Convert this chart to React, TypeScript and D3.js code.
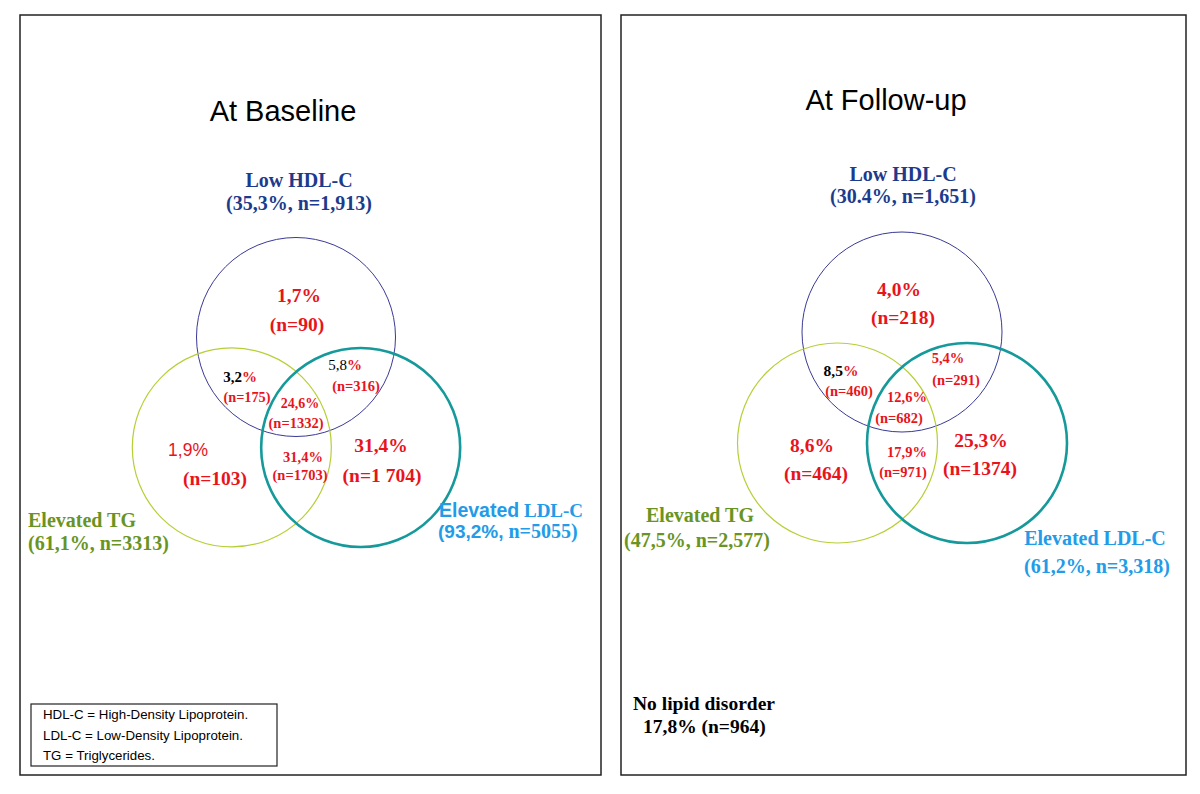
import React from 'react';
import * as d3 from 'd3';

// ---- DATA ----
const panelTitles = ['At Baseline', 'At Follow-up'];
const setNames = ['Low HDL-C', 'Elevated TG', 'Elevated LDL-C'];
const baselineSetPct = ['35,3%', '61,1%', '93,2%'];
const baselineSetN = ['1,913', '3313', '5055'];
const followSetPct = ['30.4%', '47,5%', '61,2%'];
const followSetN = ['1,651', '2,577', '3,318'];
// region order: HDL only, TG only, LDL only, HDL∩TG, HDL∩LDL, TG∩LDL, all three
const regionKeys = ['hdl', 'tg', 'ldl', 'hdlTg', 'hdlLdl', 'tgLdl', 'all'];
const baselinePct = ['1,7', '1,9', '31,4', '3,2', '5,8', '31,4', '24,6'];
const baselineN = ['90', '103', '1 704', '175', '316', '1703', '1332'];
const followPct = ['4,0', '8,6', '25,3', '8,5', '5,4', '17,9', '12,6'];
const followN = ['218', '464', '1374', '460', '291', '971', '682'];
const noDisorderPct = '17,8%';
const noDisorderN = '964';
const legendLines = ['HDL-C = High-Density Lipoprotein.', 'LDL-C = Low-Density Lipoprotein.', 'TG = Triglycerides.'];

// ---- LAYOUT ----
const SERIF = '"Liberation Serif", "Times New Roman", serif';
const SANS = '"Liberation Sans", Arial, sans-serif';
const RED = '#e8141c';
const NAVY = '#1c3b8c';
const OLIVE = '#6a9422';
const SKY = '#229be8';
const circleColors = ['#3a3a96', '#b7cf37', '#16999a'];
const circleWidths = [1, 1.2, 2.6];
// unit centers (radius = 1)
const unitCenters: [number, number][] = [[0, 0], [-0.645, 1.11], [0.65, 1.11]];

type Panel = {
  rect: [number, number, number, number];
  origin: [number, number];
  r: number;
  title: [number, number];
};
const panels: Panel[] = [
  { rect: [20, 15, 601, 775], origin: [296, 337], r: 99.5, title: [283, 121] },
  { rect: [621, 15, 1186, 775], origin: [902, 332], r: 100, title: [886, 110] },
];

type Lbl = { x1: number; y1: number; x2: number; y2: number; s1: number; s2: number; kind?: string };
const regionLayout: Record<string, Lbl>[] = [
  {
    hdl: { x1: 299, y1: 302, x2: 297, y2: 331, s1: 19.5, s2: 19.5 },
    tg: { x1: 188, y1: 456, x2: 215, y2: 485, s1: 17.5, s2: 19.5, kind: 'sans' },
    ldl: { x1: 381, y1: 452, x2: 382, y2: 482, s1: 19.5, s2: 19.5 },
    hdlTg: { x1: 240, y1: 382, x2: 247, y2: 402, s1: 15, s2: 14.3, kind: 'blackBold' },
    hdlLdl: { x1: 345, y1: 370, x2: 356, y2: 391, s1: 15, s2: 14.5, kind: 'blackReg' },
    all: { x1: 300, y1: 408, x2: 296, y2: 428, s1: 14, s2: 14.5 },
    tgLdl: { x1: 303, y1: 462, x2: 300, y2: 480, s1: 14.5, s2: 14.5 },
  },
  {
    hdl: { x1: 899, y1: 296, x2: 903, y2: 324, s1: 19.5, s2: 19.5 },
    tg: { x1: 812, y1: 452, x2: 816, y2: 480, s1: 19.5, s2: 19.5 },
    ldl: { x1: 981, y1: 447, x2: 980, y2: 475, s1: 19.5, s2: 19.5 },
    hdlTg: { x1: 841, y1: 376, x2: 849, y2: 396, s1: 15.5, s2: 14.5, kind: 'blackBold' },
    hdlLdl: { x1: 948, y1: 363, x2: 956, y2: 385, s1: 14.5, s2: 14.5 },
    all: { x1: 907, y1: 402, x2: 899, y2: 423, s1: 14.5, s2: 14.5 },
    tgLdl: { x1: 907, y1: 457, x2: 903, y2: 477, s1: 14.5, s2: 14.5 },
  },
];

function RegionLabel({ l, pct, n }: { l: Lbl; pct: string; n: string }) {
  const first = l.kind === 'sans' ? (
    <text x={l.x1} y={l.y1} textAnchor="middle" fontFamily={SANS} fontSize={l.s1} fill={RED}>{pct}%</text>
  ) : l.kind === 'blackBold' ? (
    <text x={l.x1} y={l.y1} textAnchor="middle" fontFamily={SERIF} fontWeight="bold" fontSize={l.s1}>
      <tspan fill="#000">{pct}</tspan><tspan fill={RED}>%</tspan>
    </text>
  ) : l.kind === 'blackReg' ? (
    <text x={l.x1} y={l.y1} textAnchor="middle" fontFamily={SERIF} fontSize={l.s1}>
      <tspan fill="#000">{pct}</tspan><tspan fill={RED} fontWeight="bold">%</tspan>
    </text>
  ) : (
    <text x={l.x1} y={l.y1} textAnchor="middle" fontFamily={SERIF} fontWeight="bold" fontSize={l.s1} fill={RED}>{pct}%</text>
  );
  return (
    <g>
      {first}
      <text x={l.x2} y={l.y2} textAnchor="middle" fontFamily={SERIF} fontWeight="bold" fontSize={l.s2} fill={RED}>(n={n})</text>
    </g>
  );
}

export default function App() {
  const pcts = [baselinePct, followPct];
  const ns = [baselineN, followN];
  return (
    <svg width={1200} height={794} style={{ position: 'absolute', left: 0, top: 0, background: '#fff' }}>
      <rect x={0} y={0} width={1200} height={794} fill="#fff" />
      {panels.map((p, pi) => {
        const xs = d3.scaleLinear().domain([0, 1]).range([p.origin[0], p.origin[0] + p.r]);
        const ys = d3.scaleLinear().domain([0, 1]).range([p.origin[1], p.origin[1] + p.r]);
        return (
          <g key={pi}>
            <rect x={p.rect[0]} y={p.rect[1]} width={p.rect[2] - p.rect[0]} height={p.rect[3] - p.rect[1]}
              fill="none" stroke="#222" strokeWidth={1.5} />
            <text x={p.title[0]} y={p.title[1]} textAnchor="middle" fontFamily={SANS} fontSize={29} fill="#000">{panelTitles[pi]}</text>
            {unitCenters.map((c, ci) => (
              <circle key={ci} cx={xs(c[0])} cy={ys(c[1])} r={xs(1) - xs(0)} fill="none"
                stroke={circleColors[ci]} strokeWidth={circleWidths[ci]} />
            ))}
            {regionKeys.map((k, ri) => (
              <RegionLabel key={k} l={regionLayout[pi][k]} pct={pcts[pi][ri]} n={ns[pi][ri]} />
            ))}
          </g>
        );
      })}

      {/* Baseline set labels */}
      <g fontFamily={SERIF} fontWeight="bold" fontSize={20}>
        <text x={299} y={187} textAnchor="middle" fill={NAVY}>{setNames[0]}</text>
        <text x={299} y={210} textAnchor="middle" fill={NAVY}>({baselineSetPct[0]}, n={baselineSetN[0]})</text>
        <text x={28} y={527} fill={OLIVE}>{setNames[1]}</text>
        <text x={28} y={550} fill={OLIVE}>({baselineSetPct[1]}, n={baselineSetN[1]})</text>
        <text x={439} y={517} fill={SKY}>
          <tspan fontFamily={SANS} fontSize={19.5}>{setNames[2].split(' ')[0]}</tspan>
          <tspan fontSize={19}> {setNames[2].split(' ')[1]}</tspan>
        </text>
        <text x={438} y={538} fill={SKY}>
          <tspan fontFamily={SANS} fontSize={19}>({baselineSetPct[2]},</tspan>
          <tspan> n={baselineSetN[2]})</tspan>
        </text>
      </g>

      {/* Follow-up set labels */}
      <g fontFamily={SERIF} fontWeight="bold" fontSize={20}>
        <text x={903} y={181} textAnchor="middle" fill={NAVY}>{setNames[0]}</text>
        <text x={903} y={203} textAnchor="middle" fill={NAVY}>({followSetPct[0]}, n={followSetN[0]})</text>
        <text x={700} y={522} textAnchor="middle" fill={OLIVE}>{setNames[1]}</text>
        <text x={697} y={547} textAnchor="middle" fill={OLIVE}>({followSetPct[1]}, n={followSetN[1]})</text>
        <text x={1095} y={545} textAnchor="middle" fill={SKY}>{setNames[2]}</text>
        <text x={1097} y={573} textAnchor="middle" fill={SKY}>({followSetPct[2]}, n={followSetN[2]})</text>
        <text x={633} y={710} fontSize={19.5} fill="#000">No lipid disorder</text>
        <text x={643} y={733} fontSize={19.5} fill="#000">{noDisorderPct} (n={noDisorderN})</text>
      </g>

      {/* Legend box */}
      <rect x={31} y={704} width={246} height={62} fill="none" stroke="#222" strokeWidth={1.2} />
      {legendLines.map((t, i) => (
        <text key={i} x={43} y={719 + i * 20.5} fontFamily={SANS} fontSize={13.3} fill="#000">{t}</text>
      ))}
    </svg>
  );
}
